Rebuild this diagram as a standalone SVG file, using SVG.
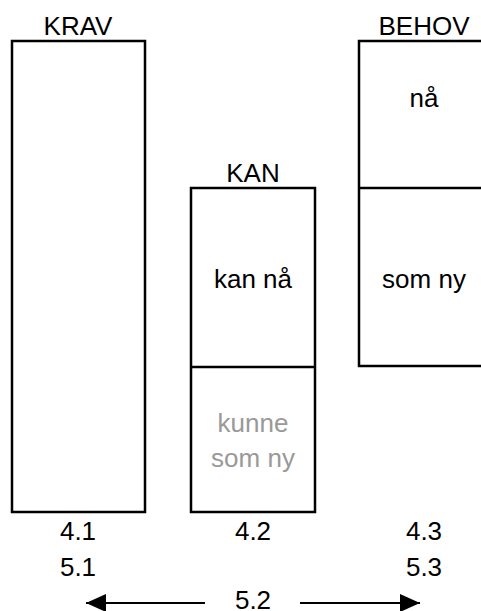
<svg xmlns="http://www.w3.org/2000/svg" width="481" height="611" viewBox="0 0 481 611">
<style>
.box{fill:none;stroke:#000;stroke-width:2.5}
.t{font-family:"Liberation Sans",Arial,sans-serif;font-size:26px;fill:#000;text-anchor:middle}
.g{fill:#999}
.c{stroke:#000;stroke-width:2;fill:none}
</style>
<defs>
<marker id="ah" markerWidth="20" markerHeight="18" refX="20" refY="9" orient="auto" markerUnits="userSpaceOnUse">
<path d="M0,0 L20,9 L0,18 Z" fill="#000"/>
</marker>
</defs>
<rect width="481" height="611" fill="#fff"/>
<g id="krav">
<rect class="box" x="12" y="41" width="133" height="471"/>
<text class="t" x="78" y="35">KRAV</text>
<text class="t" x="78" y="540">4.1</text>
<text class="t" x="78" y="576">5.1</text>
</g>
<g id="kan">
<rect class="box" x="191" y="188" width="124" height="324"/>
<line class="box" x1="191" y1="367" x2="315" y2="367"/>
<text class="t" x="253" y="182">KAN</text>
<text class="t" x="253" y="288">kan nå</text>
<text class="t g" x="253" y="432">kunne</text>
<text class="t g" x="253" y="467">som ny</text>
<text class="t" x="253" y="540">4.2</text>
</g>
<g id="behov">
<rect class="box" x="359" y="41" width="134" height="325"/>
<line class="box" x1="359" y1="188" x2="493" y2="188"/>
<text class="t" x="424" y="35">BEHOV</text>
<text class="t" x="424" y="107">nå</text>
<text class="t" x="424" y="288">som ny</text>
<text class="t" x="424" y="540">4.3</text>
<text class="t" x="424" y="576">5.3</text>
</g>
<g id="connectors">
<line class="c" x1="205" y1="603" x2="86" y2="603" marker-end="url(#ah)"/>
<line class="c" x1="300" y1="603" x2="420" y2="603" marker-end="url(#ah)"/>
<text class="t" x="253" y="609">5.2</text>
</g>
</svg>
